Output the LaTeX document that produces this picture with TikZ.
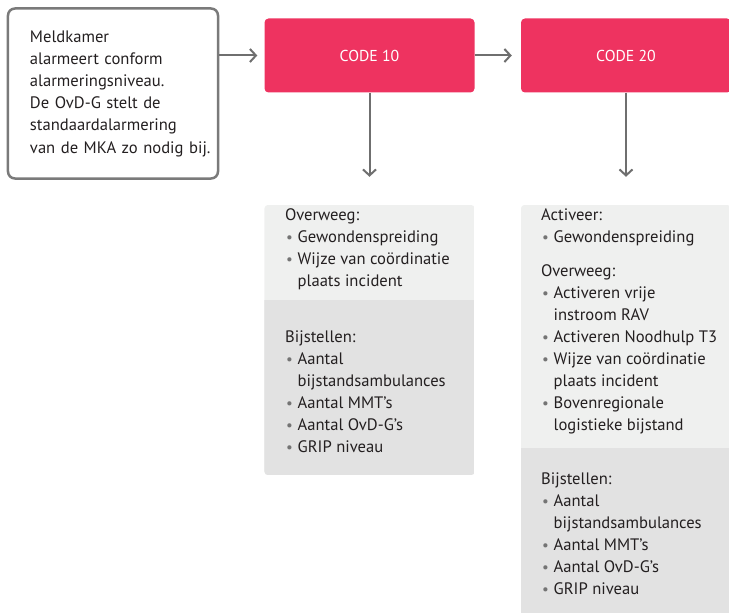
\documentclass[tikz,border=0pt]{standalone}
\usepackage{fontspec}
\setmainfont{PT Sans}
\usetikzlibrary{arrows.meta}

\definecolor{ink}{HTML}{231F20}
\definecolor{accent}{HTML}{EE3360}
\definecolor{framegray}{HTML}{7A7A7A}
\definecolor{arrowgray}{HTML}{6F6F6F}
\definecolor{dotgray}{HTML}{747474}
\definecolor{panellight}{HTML}{EFF0EF}
\definecolor{paneldark}{HTML}{E2E2E2}

% bullet item and continuation line inside the panels
\newcommand\itm[1]{\hspace*{1bp}\makebox[11.5bp][l]{\textcolor{dotgray}{\raisebox{0bp}{\fontsize{15bp}{15bp}\selectfont •}}}#1}
\newcommand\cnt[1]{\hspace*{12.5bp}#1}

\begin{document}
\begin{tikzpicture}[x=1bp,y=-1bp,
  every node/.style={font=\fontsize{16.6bp}{22bp}\selectfont, text=ink},
  introbox/.style={draw=framegray, line width=2.5bp, rounded corners=7bp,
    minimum width=210bp, minimum height=170bp, text width=166bp,
    inner xsep=22bp, align=left,
    font=\fontsize{16.6bp}{22.2bp}\selectfont},
  codebox/.style={fill=accent, rounded corners=4bp, text=white,
    minimum width=210bp, minimum height=74bp,
    font=\fontsize{15.8bp}{19bp}\selectfont},
  panelframe/.style={minimum width=210bp, inner sep=0pt},
  block/.style={anchor=north west, yshift=15.4bp, inner sep=0pt, align=left},
  flow/.style={draw=arrowgray, line width=2bp,
    -{Straight Barb[length=6bp, width=13bp]}}]

\useasboundingbox (0,0) rectangle (729,613);
\clip (0,0) rectangle (729,613);

% flow boxes
\node[introbox] (intro) at (113,93.5) {\mbox{Meldkamer}\\ \mbox{alarmeert conform}\\ \mbox{alarmeringsniveau.}\\ \mbox{De OvD-G stelt de}\\ \mbox{standaardalarmering}\\ \mbox{van de MKA zo nodig bij.}};
\node[codebox] (c10) at (369.5,55.5) {CODE 10};
\node[codebox] (c20) at (626,55.5) {CODE 20};

% panel areas
\node[panelframe, minimum height=270bp] (p1) at (369.5,340) {};
\node[panelframe, minimum height=420bp] (p2) at (626,415) {};

\begin{scope}
  \clip[rounded corners=4bp] (p1.north west) rectangle (p1.south east);
  \fill[panellight] (p1.north west) rectangle (p1.south east);
  \fill[paneldark] (p1.west |- 0,300) rectangle (p1.south east);
\end{scope}
\begin{scope}
  \clip[rounded corners=4bp] (p2.north west) rectangle (p2.south east);
  \fill[panellight] (p2.north west) rectangle (p2.south east);
  \fill[paneldark] (p2.west |- 0,448) rectangle (p2.south east);
\end{scope}

% connectors
\draw[flow, shorten >=7bp] (intro.east |- c10.west) -- (c10.west);
\draw[flow, shorten >=9bp] (c10.east) -- (c20.west);
\draw[flow, shorten >=28bp] (c10.south) -- (p1.north);
\draw[flow, shorten >=28bp] (c20.south) -- (p2.north);

% panel texts (each block placed by the baseline of its first line)
\node[block] (p1a) at (285,220) {\strut Overweeg:\\ \itm{Gewondenspreiding}\\ \itm{Wijze van coördinatie}\\ \cnt{plaats incident}};
\node[block] (p1b) at (285,342) {\strut Bijstellen:\\ \itm{Aantal}\\ \cnt{bijstandsambulances}\\ \itm{Aantal MMT’s}\\ \itm{Aantal OvD-G’s}\\ \itm{GRIP niveau}};

\node[block] (p2a) at (541,220) {\strut Activeer:\\ \itm{Gewondenspreiding}};
\node[block] (p2b) at (541,276) {\strut Overweeg:\\ \itm{Activeren vrije}\\ \cnt{instroom RAV}\\ \itm{Activeren Noodhulp T3}\\ \itm{Wijze van coördinatie}\\ \cnt{plaats incident}\\ \itm{Bovenregionale}\\ \cnt{logistieke bijstand}};
\node[block] (p2c) at (541,484) {\strut Bijstellen:\\ \itm{Aantal}\\ \cnt{bijstandsambulances}\\ \itm{Aantal MMT’s}\\ \itm{Aantal OvD-G’s}\\ \itm{GRIP niveau}};

\end{tikzpicture}
\end{document}
